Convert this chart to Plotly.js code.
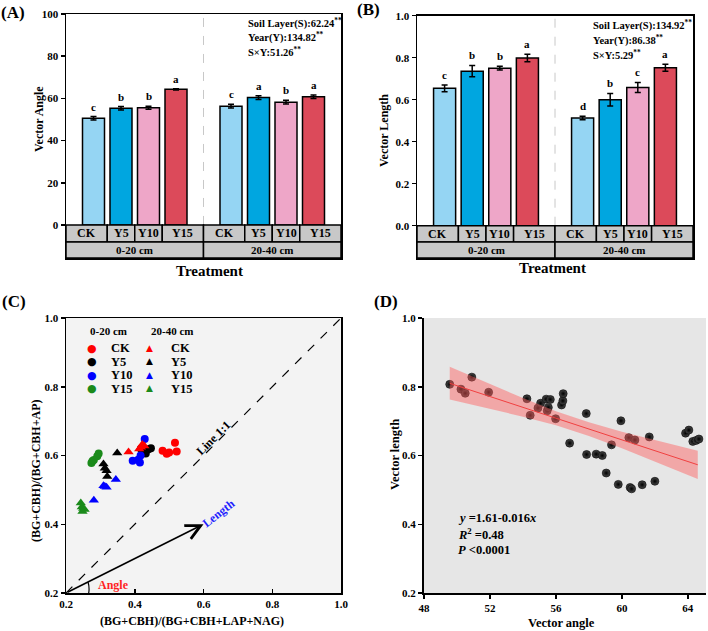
<!DOCTYPE html>
<html><head><meta charset="utf-8">
<script src="https://cdn.plot.ly/plotly-3.0.1.min.js"></script>
<style>html,body{margin:0;padding:0;background:#fff}#chart{width:708px;height:631px}</style>
</head><body><div id="chart"></div>
<script>
// ---------------- data ----------------
const treatments = ['CK', 'Y5', 'Y10', 'Y15'];
const layers = ['0-20 cm', '20-40 cm'];

// (A) Vector angle
const angleMean020 = [50.6, 55.3, 55.6, 64.3];
const angleErr020 = [0.8, 0.8, 0.7, 0.3];
const angleMean2040 = [56.3, 60.4, 58.2, 60.8];
const angleErr2040 = [0.9, 0.9, 0.9, 0.8];
const angleLetters020 = ['c', 'b', 'b', 'a'];
const angleLetters2040 = ['c', 'a', 'b', 'a'];
const angleStats = ['Soil Layer(S):62.24', 'Year(Y):134.82', 'S×Y:51.26'];

// (B) Vector length
const lengthMean020 = [0.654, 0.736, 0.750, 0.799];
const lengthErr020 = [0.016, 0.027, 0.009, 0.018];
const lengthMean2040 = [0.513, 0.600, 0.658, 0.752];
const lengthErr2040 = [0.008, 0.030, 0.024, 0.017];
const lengthLetters020 = ['c', 'b', 'b', 'a'];
const lengthLetters2040 = ['d', 'b', 'c', 'a'];
const lengthStats = ['Soil Layer(S):134.92', 'Year(Y):86.38', 'S×Y:5.29'];

// (C) enzyme stoichiometry: x = (BG+CBH)/(BG+CBH+LAP+NAG), y = (BG+CBH)/(BG+CBH+AP)
const ck020X = [0.481, 0.493, 0.500, 0.517, 0.522];
const ck020Y = [0.614, 0.605, 0.609, 0.637, 0.612];
const y5020X = [0.418, 0.425, 0.432, 0.440, 0.447];
const y5020Y = [0.620, 0.612, 0.606, 0.618, 0.621];
const y10020X = [0.394, 0.410, 0.415, 0.417, 0.429];
const y10020Y = [0.585, 0.588, 0.580, 0.600, 0.648];
const y15020X = [0.274, 0.277, 0.281, 0.291, 0.295];
const y15020Y = [0.578, 0.584, 0.587, 0.598, 0.606];
const ck2040X = [0.382, 0.413, 0.418, 0.422, 0.428];
const ck2040Y = [0.610, 0.619, 0.624, 0.632, 0.628];
const y52040X = [0.309, 0.313, 0.318, 0.320, 0.349];
const y52040Y = [0.575, 0.563, 0.556, 0.539, 0.607];
const y102040X = [0.281, 0.309, 0.313, 0.318, 0.345];
const y102040Y = [0.470, 0.512, 0.510, 0.508, 0.530];
const y152040X = [0.243, 0.246, 0.250, 0.254, 0.248];
const y152040Y = [0.462, 0.450, 0.446, 0.443, 0.437];

// (D) vector angle vs vector length
const vecAngle = [49.56, 50.24, 50.50, 50.90, 51.92, 54.24, 54.44, 54.91, 55.07, 55.41, 55.47, 55.54, 55.66,
  55.98, 56.34, 56.42, 56.44, 56.83, 57.84, 57.86, 58.44, 58.81, 59.05, 59.37, 59.78, 59.94, 60.42, 60.50,
  60.59, 60.79, 61.23, 61.66, 62.00, 63.86, 64.06, 64.30, 64.50, 64.67];
const vecLength = [0.807, 0.793, 0.781, 0.828, 0.784, 0.765, 0.717, 0.738, 0.752, 0.764, 0.730, 0.740, 0.763,
  0.707, 0.747, 0.759, 0.780, 0.636, 0.722, 0.603, 0.604, 0.600, 0.549, 0.631, 0.516, 0.701, 0.652, 0.507,
  0.503, 0.645, 0.515, 0.654, 0.525, 0.665, 0.674, 0.641, 0.644, 0.648];
const fitX = [49.56, 64.6];
const fitY = [0.810, 0.573];
const bandX = [49.56, 52, 54, 56, 58, 60, 62, 64.6];
const bandUpper = [0.858, 0.807, 0.767, 0.729, 0.697, 0.669, 0.645, 0.614];
const bandLower = [0.763, 0.736, 0.713, 0.688, 0.657, 0.621, 0.583, 0.532];

// ---------------- helpers / styles ----------------
const FONT = 'Liberation Serif, Times New Roman, serif';
const W = 708, H = 631;
const PX = v => v / W, PY = v => 1 - v / H;
const treatColors = ['#95d5f3', '#00a6e0', '#eea6c8', '#dc4a5a'];
const bold = (size, color) => ({family: FONT, size: size, weight: 'bold', color: color || '#000'});

let data = [], shapes = [], annotations = [];

function addBarPanel(k, means, errs, letters, stats, statsLeft, statsRows, yMin, ySplit, yTop) {
  const xr = k === 1 ? 'x' : 'x' + k, yr = k === 1 ? 'y' : 'y' + k;
  treatments.forEach((t, i) => {
    const xs = layers.map((_, g) => g * 5 + i + 1);
    data.push({
      type: 'bar', x: xs, y: layers.map((_, g) => means[g][i]), width: 0.8,
      xaxis: xr, yaxis: yr, name: t, showlegend: false,
      marker: {color: treatColors[i], line: {color: '#000', width: 1.5}},
      error_y: {type: 'data', array: layers.map((_, g) => errs[g][i]), color: '#000', thickness: 1.5, width: 3}
    });
    layers.forEach((_, g) => {
      annotations.push({xref: xr, yref: yr, x: g * 5 + i + 1, y: means[g][i] + errs[g][i],
        text: letters[g][i], showarrow: false, xanchor: 'center', yanchor: 'bottom', yshift: 2, font: bold(11)});
    });
  });
  const edges = [0, 1.5, 2.5, 3.5, 5];
  layers.forEach((lab, g) => {
    for (let i = 0; i < 4; i++) {
      const x0 = g * 5 + edges[i], x1 = g * 5 + edges[i + 1];
      shapes.push({type: 'rect', xref: xr, yref: yr, x0: x0, x1: x1, y0: ySplit, y1: 0,
        fillcolor: '#c8c8c8', line: {color: '#000', width: 1.5}});
      annotations.push({xref: xr, yref: yr, x: (x0 + x1) / 2, y: ySplit / 2, text: treatments[i],
        showarrow: false, xanchor: 'center', yanchor: 'middle', font: bold(12)});
    }
    shapes.push({type: 'rect', xref: xr, yref: yr, x0: g * 5, x1: g * 5 + 5, y0: yMin, y1: ySplit,
      fillcolor: '#c8c8c8', line: {color: '#000', width: 1.5}});
    annotations.push({xref: xr, yref: yr, x: g * 5 + 2.5, y: (yMin + ySplit) / 2, text: lab,
      showarrow: false, xanchor: 'center', yanchor: 'middle', font: bold(11)});
  });
  shapes.push({type: 'line', xref: xr, yref: yr, x0: 5, x1: 5, y0: 0, y1: yTop, layer: 'below',
    line: {color: '#c8c8c8', width: 1, dash: 'dash'}});
  stats.forEach((s, j) => {
    annotations.push({xref: 'paper', yref: 'paper', x: PX(statsLeft), y: PY(statsRows[j]),
      xanchor: 'left', yanchor: 'middle', text: s + '<sup>**</sup>', showarrow: false, font: bold(10.5)});
  });
}

addBarPanel(1, [angleMean020, angleMean2040], [angleErr020, angleErr2040],
  [angleLetters020, angleLetters2040], angleStats, 246, [23, 37, 51], -15.66, -8.07, 100);
addBarPanel(2, [lengthMean020, lengthMean2040], [lengthErr020, lengthErr2040],
  [lengthLetters020, lengthLetters2040], lengthStats, 591, [25, 40, 54], -0.1538, -0.0776, 1.0);

// ---- panel C ----
const cSeries = [
  [ck020X, ck020Y, 'circle', '#ff0000', 'CK 0-20 cm'],
  [y5020X, y5020Y, 'circle', '#000000', 'Y5 0-20 cm'],
  [y10020X, y10020Y, 'circle', '#0000ff', 'Y10 0-20 cm'],
  [y15020X, y15020Y, 'circle', '#1a8a1a', 'Y15 0-20 cm'],
  [ck2040X, ck2040Y, 'triangle-up', '#ff0000', 'CK 20-40 cm'],
  [y52040X, y52040Y, 'triangle-up', '#000000', 'Y5 20-40 cm'],
  [y102040X, y102040Y, 'triangle-up', '#0000ff', 'Y10 20-40 cm'],
  [y152040X, y152040Y, 'triangle-up', '#1a8a1a', 'Y15 20-40 cm']
];
cSeries.forEach(s => {
  data.push({type: 'scatter', mode: 'markers', x: s[0], y: s[1], xaxis: 'x3', yaxis: 'y3', name: s[4],
    showlegend: false, marker: {symbol: s[2], color: s[3], size: s[2] === 'circle' ? 8 : 9, line: {width: 0}}});
});
shapes.push({type: 'rect', xref: 'x3 domain', yref: 'y3 domain', x0: 0, x1: 1, y0: 0, y1: 1,
  fillcolor: '#f3f3f3', line: {width: 0}, layer: 'below'});
shapes.push({type: 'line', xref: 'x3', yref: 'y3', x0: 0.2, y0: 0.2, x1: 1.0, y1: 1.0,
  line: {color: '#000', width: 1.2, dash: 'dash'}});
shapes.push({type: 'path', xref: 'x3', yref: 'y3', path: 'M 0.266 0.2 Q 0.269 0.216 0.264 0.232',
  line: {color: '#000', width: 1.2}});
annotations.push({xref: 'x3', yref: 'y3', x: 0.6, y: 0.4, axref: 'x3', ayref: 'y3', ax: 0.2, ay: 0.2,
  text: '', showarrow: true, arrowhead: 5, arrowsize: 1.8, arrowwidth: 1.6, arrowcolor: '#000'});
annotations.push({xref: 'x3', yref: 'y3', x: 0.628, y: 0.652, text: 'Line 1:1', textangle: -45,
  showarrow: false, xanchor: 'center', yanchor: 'middle', font: bold(12)});
annotations.push({xref: 'x3', yref: 'y3', x: 0.645, y: 0.433, text: 'Length', textangle: -38,
  showarrow: false, xanchor: 'center', yanchor: 'middle', font: bold(12, '#1f1fff')});
annotations.push({xref: 'x3', yref: 'y3', x: 0.338, y: 0.222, text: 'Angle',
  showarrow: false, xanchor: 'center', yanchor: 'middle', font: bold(12, '#ff1f1f')});
// legend for C (text based)
const paperText = (x, y, text, size, angle, xanchor, color, family) => annotations.push({xref: 'paper', yref: 'paper',
  x: PX(x), y: PY(y), text: text, showarrow: false, textangle: angle || 0, xanchor: xanchor || 'center',
  yanchor: 'middle', font: family ? {family: family, size: size, color: color} : bold(size, color)});
paperText(108, 331, '0-20 cm', 11);
paperText(172, 331, '20-40 cm', 11);
const legendColors = ['#ff0000', '#000000', '#0000ff', '#1a8a1a'];
const legendRows = [348, 361.5, 375, 388.5];
treatments.forEach((t, i) => {
  paperText(92, legendRows[i], '●', 11, 0, 'center', legendColors[i], 'DejaVu Sans');
  paperText(149.5, legendRows[i] - 0.5, '▲', 9, 0, 'center', legendColors[i], 'DejaVu Sans');
  paperText(109, legendRows[i], t, 12.5, 0, 'left');
  paperText(168.5, legendRows[i], t, 12.5, 0, 'left');
});

// ---- panel D ----
shapes.push({type: 'rect', xref: 'x4 domain', yref: 'y4 domain', x0: 0, x1: 1, y0: 0, y1: 1,
  fillcolor: '#e6e6e6', line: {width: 0}, layer: 'below'});
data.push({type: 'scatter', mode: 'markers', x: vecAngle, y: vecLength, xaxis: 'x4', yaxis: 'y4',
  name: 'samples', showlegend: false,
  marker: {size: 8, color: '#4a4a4a', gradient: {type: 'radial', color: '#000'}, line: {color: '#000', width: 0.6}}});
data.push({type: 'scatter', mode: 'lines', x: bandX.concat(bandX.slice().reverse()),
  y: bandUpper.concat(bandLower.slice().reverse()), xaxis: 'x4', yaxis: 'y4', fill: 'toself',
  fillcolor: 'rgba(255,90,90,0.45)', line: {width: 0}, name: '95% CI', showlegend: false, hoverinfo: 'skip'});
data.push({type: 'scatter', mode: 'lines', x: fitX, y: fitY, xaxis: 'x4', yaxis: 'y4', name: 'fit',
  showlegend: false, line: {color: '#f04040', width: 1}});
paperText(456, 518, '<i>y</i> =1.61-0.016<i>x</i>', 12.5, 0, 'left');
paperText(456, 534, '<i>R</i><sup>2</sup> =0.48', 12.5, 0, 'left');
paperText(456, 550, '<i>P</i> &lt;0.0001', 12.5, 0, 'left');

// ---- titles & panel labels ----
paperText(13, 12, '(A)', 17);
paperText(368, 10, '(B)', 17);
paperText(14, 302, '(C)', 17);
paperText(386, 302, '(D)', 17);
paperText(39, 119, 'Vector Angle', 12, -90);
paperText(384, 131, 'Vector Length', 12, -90);
paperText(209, 271, 'Treatment', 15);
paperText(552, 268, 'Treatment', 15);
paperText(36, 471, '(BG+CBH)/(BG+CBH+AP)', 12, -90);
paperText(192, 621, '(BG+CBH)/(BG+CBH+LAP+NAG)', 12);
paperText(395, 455, 'Vector length', 12.5, -90);
paperText(561, 623, 'Vector angle', 12.5);

// ---- axes ----
const tf = bold(11);
const baseAxis = {showgrid: false, zeroline: false, showline: true, linecolor: '#000', linewidth: 1.5,
  tickfont: tf, tickcolor: '#000', tickwidth: 1.5, ticklen: 4};
const layout = {
  width: W, height: H, margin: {l: 0, r: 0, t: 0, b: 0}, paper_bgcolor: '#fff', plot_bgcolor: 'rgba(0,0,0,0)',
  font: {family: FONT, color: '#000'}, showlegend: false, barmode: 'group',
  xaxis: Object.assign({}, baseAxis, {domain: [PX(66), PX(341)], range: [0, 10], showticklabels: false,
    ticks: '', mirror: true, anchor: 'y'}),
  yaxis: Object.assign({}, baseAxis, {domain: [PY(258), PY(14)], range: [-15.66, 100],
    tickvals: [0, 20, 40, 60, 80, 100], ticks: 'outside', mirror: true, anchor: 'x'}),
  xaxis2: Object.assign({}, baseAxis, {domain: [PX(417), PX(693)], range: [0, 10], showticklabels: false,
    ticks: '', mirror: true, anchor: 'y2'}),
  yaxis2: Object.assign({}, baseAxis, {domain: [PY(258), PY(15.7)], range: [-0.1538, 1.0],
    tickvals: [0, 0.2, 0.4, 0.6, 0.8, 1.0], tickformat: '.1f', ticks: 'outside', mirror: true, anchor: 'x2'}),
  xaxis3: Object.assign({}, baseAxis, {domain: [PX(66), PX(341)], range: [0.2, 1.0],
    tickvals: [0.2, 0.4, 0.6, 0.8, 1.0], tickformat: '.1f', ticks: 'inside', mirror: true, anchor: 'y3'}),
  yaxis3: Object.assign({}, baseAxis, {domain: [PY(593), PY(318)], range: [0.2, 1.0],
    tickvals: [0.2, 0.4, 0.6, 0.8, 1.0], tickformat: '.1f', ticks: 'outside', mirror: true, anchor: 'x3'}),
  xaxis4: Object.assign({}, baseAxis, {domain: [PX(424), PX(706)], range: [48, 65.1], linewidth: 2,
    tickvals: [48, 52, 56, 60, 64], ticks: 'outside', anchor: 'y4'}),
  yaxis4: Object.assign({}, baseAxis, {domain: [PY(593), PY(318)], range: [0.2, 1.0], linewidth: 2,
    tickvals: [0.2, 0.4, 0.6, 0.8, 1.0], tickformat: '.1f', ticks: 'outside', anchor: 'x4'}),
  shapes: shapes, annotations: annotations
};
Plotly.newPlot('chart', data, layout, {displayModeBar: false, staticPlot: true});
</script>
</body></html>
